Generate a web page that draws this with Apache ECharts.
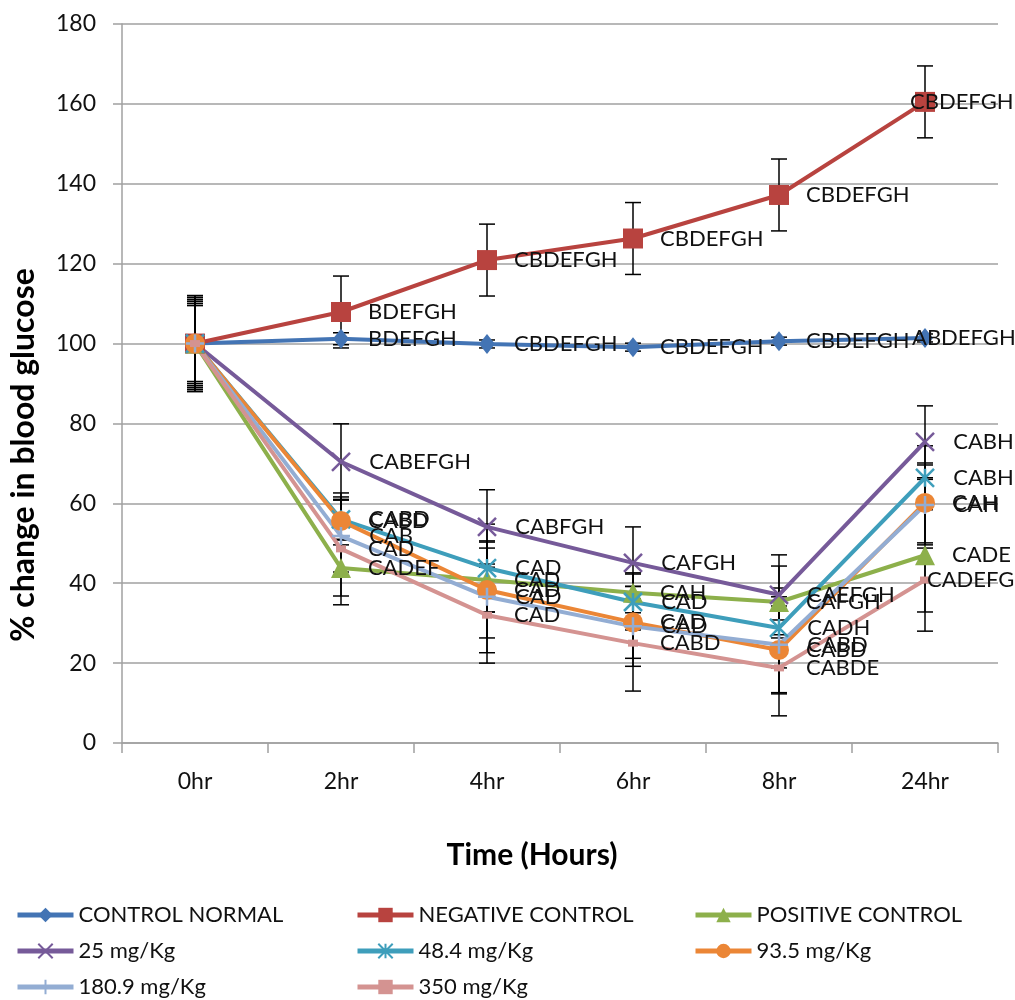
<!DOCTYPE html>
<html>
<head>
<meta charset="utf-8">
<script src="https://cdn.jsdelivr.net/npm/echarts@6/dist/echarts.min.js"></script>
<style>
html,body{margin:0;padding:0;background:#fff;}
#chart{width:1015px;height:1000px;}
</style>
</head>
<body>
<div id="chart"></div>
<script>
// ---------- data ----------
const categories = ['0hr', '2hr', '4hr', '6hr', '8hr', '24hr'];
const yTicks = [0, 20, 40, 60, 80, 100, 120, 140, 160, 180];
const seriesNames = ['CONTROL NORMAL', 'NEGATIVE CONTROL', 'POSITIVE CONTROL', '25 mg/Kg', '48.4 mg/Kg', '93.5 mg/Kg', '180.9 mg/Kg', '350 mg/Kg'];

const controlNormal   = [100, 101.2, 99.9, 99.1, 100.6, 101.4];
const negativeControl = [100, 107.9, 120.9, 126.3, 137.2, 160.5];
const positiveControl = [100, 43.8, 40.8, 37.6, 35.3, 47.0];
const dose25          = [100, 70.4, 54.1, 45.1, 37.1, 75.4];
const dose48          = [100, 56.0, 43.8, 35.3, 28.8, 66.4];
const dose93          = [100, 55.6, 38.3, 30.2, 23.3, 60.1];
const dose180         = [100, 51.8, 36.6, 29.2, 24.6, 59.6];
const dose350         = [100, 48.6, 32.0, 25.0, 18.8, 40.8];

const errControlNormal   = [11.5, 1.5, 1, 1, 1, 1];
const errNegativeControl = [12, 9, 9, 9, 9, 9];
const errPositiveControl = [10, 7, 8, 5, 9, 19];
const err25              = [11, 9.5, 9.3, 9, 10, 9];
const err48              = [9.5, 5, 11, 7, 10, 8];
const err93              = [10.5, 6, 12, 9, 11, 10];
const err180             = [11, 9, 14, 10, 12, 10];
const err350             = [12, 14, 12, 12, 12, 8];

const lblControlNormal   = ['', 'BDEFGH', 'CBDEFGH', 'CBDEFGH', 'CBDEFGH', 'ABDEFGH'];
const lblNegativeControl = ['', 'BDEFGH', 'CBDEFGH', 'CBDEFGH', 'CBDEFGH', 'CBDEFGH'];
const lblPositiveControl = ['', 'CADEF', 'CAD', 'CAH', 'CAFGH', 'CADE'];
const lbl25              = ['', 'CABEFGH', 'CABFGH', 'CAFGH', 'CAEFGH', 'CABH'];
const lbl48              = ['', 'CABD', 'CAD', 'CAD', 'CADH', 'CABH'];
const lbl93              = ['', 'CABD', 'CAD', 'CAD', 'CABD', 'CAH'];
const lbl180             = ['', 'CAB', 'CAD', 'CAD', 'CABD', 'CAH'];
const lbl350             = ['', 'CAD', 'CAD', 'CABD', 'CABDE', 'CADEFG'];

// ---------- styling ----------
const FONT = 'Lato';
const values = [controlNormal, negativeControl, positiveControl, dose25, dose48, dose93, dose180, dose350];
const errors = [errControlNormal, errNegativeControl, errPositiveControl, err25, err48, err93, err180, err350];
const labels = [lblControlNormal, lblNegativeControl, lblPositiveControl, lbl25, lbl48, lbl93, lbl180, lbl350];
const colors = ['#4374B4', '#B8433F', '#8DB04B', '#765A99', '#3E9EBB', '#EB8636', '#93ADD3', '#D49391'];
const symbols = [
  {symbol: 'diamond', size: [16, 20]},
  {symbol: 'rect', size: 20},
  {symbol: 'triangle', size: 20},
  {symbol: 'path://M0,0L10,10M10,0L0,10', size: 18, stroke: true},
  {symbol: 'path://M0,0L10,10M10,0L0,10M5,0L5,10', size: 18, stroke: true},
  {symbol: 'circle', size: 20},
  {symbol: 'path://M5,0L5,10M0,5L10,5', size: 18, stroke: true},
  {symbol: 'rect', size: [10, 7]}
];
// label left shifts at specific points (series index -> point index -> dx)
const labelShift = {0: {5: -40}, 1: {5: -42}, 7: {5: -25}};

const series = [];
values.forEach((vals, s) => {
  const sym = symbols[s];
  const half = (Array.isArray(sym.size) ? sym.size[0] : sym.size) / 2;
  series.push({
    name: seriesNames[s],
    type: 'line',
    data: vals.map((v, i) => {
      const item = {value: v};
      if (labelShift[s] && labelShift[s][i] !== undefined) {
        item.label = {offset: [labelShift[s][i], 0]};
      }
      return item;
    }),
    symbol: sym.symbol,
    symbolSize: sym.size,
    showAllSymbol: true,
    lineStyle: {color: colors[s], width: 4},
    itemStyle: sym.stroke ? {color: colors[s], borderColor: colors[s], borderWidth: 2.5} : {color: colors[s], borderWidth: 0},
    label: {
      show: true,
      position: 'right',
      distance: 27 - half,
      fontFamily: FONT,
      fontSize: 22,
      color: '#111',
      formatter: p => labels[s][p.dataIndex]
    },
    emphasis: {disabled: true},
    z: 3
  });
});
values.forEach((vals, s) => {
  series.push({
    name: seriesNames[s] + ' error',
    type: 'custom',
    silent: true,
    z: 2,
    data: vals.map((v, i) => [i, v - errors[s][i], v + errors[s][i]]),
    encode: {x: 0, y: [1, 2]},
    renderItem: (params, api) => {
      const lo = api.coord([api.value(0), api.value(1)]);
      const hi = api.coord([api.value(0), api.value(2)]);
      const w = 8;
      const st = {stroke: '#000', lineWidth: 1.5};
      return {
        type: 'group',
        children: [
          {type: 'line', shape: {x1: lo[0], y1: lo[1], x2: hi[0], y2: hi[1]}, style: st},
          {type: 'line', shape: {x1: lo[0] - w, y1: lo[1], x2: lo[0] + w, y2: lo[1]}, style: st},
          {type: 'line', shape: {x1: hi[0] - w, y1: hi[1], x2: hi[0] + w, y2: hi[1]}, style: st}
        ]
      };
    }
  });
});

const legendBase = {
  orient: 'vertical',
  top: 903,
  height: 100,
  padding: 0,
  itemWidth: 56,
  itemHeight: 18,
  itemGap: 12,
  selectedMode: false,
  lineStyle: {width: 5},
  textStyle: {fontFamily: FONT, fontSize: 22, color: '#111', lineHeight: 24}
};

const chart = echarts.init(document.getElementById('chart'), null, {renderer: 'canvas'});
chart.setOption({
  animation: false,
  backgroundColor: '#fff',
  grid: {left: 122, right: 17, top: 24, bottom: 257},
  xAxis: {
    type: 'category',
    data: categories,
    boundaryGap: true,
    axisLine: {lineStyle: {color: '#A0A0A0', width: 1.5}},
    axisTick: {show: true, length: 10, lineStyle: {color: '#A0A0A0', width: 1.5}},
    axisLabel: {fontFamily: FONT, fontSize: 23, color: '#111', margin: 27}
  },
  yAxis: {
    type: 'value',
    min: yTicks[0],
    max: yTicks[yTicks.length - 1],
    interval: 20,
    axisLine: {show: true, lineStyle: {color: '#A0A0A0', width: 1.5}},
    axisTick: {show: true, length: 9, lineStyle: {color: '#A0A0A0', width: 1.5}},
    splitLine: {lineStyle: {color: '#A0A0A0', width: 1.5}},
    axisLabel: {fontFamily: FONT, fontSize: 23, color: '#111', margin: 26}
  },
  legend: [
    Object.assign({}, legendBase, {left: 15, data: [seriesNames[0], seriesNames[3], seriesNames[6]]}),
    Object.assign({}, legendBase, {left: 355, data: [seriesNames[1], seriesNames[4], seriesNames[7]]}),
    Object.assign({}, legendBase, {left: 693, data: [seriesNames[2], seriesNames[5]]})
  ],
  graphic: [
    {type: 'text', x: 24, y: 455, rotation: Math.PI / 2,
     style: {text: '% change in blood glucose', fontFamily: FONT, fontWeight: 'bold', fontSize: 32, fill: '#000', align: 'center', verticalAlign: 'middle'}},
    {type: 'text', x: 532, y: 855,
     style: {text: 'Time (Hours)', fontFamily: FONT, fontWeight: 'bold', fontSize: 30, fill: '#000', align: 'center', verticalAlign: 'middle'}}
  ],
  series: series
});
</script>
</body>
</html>
